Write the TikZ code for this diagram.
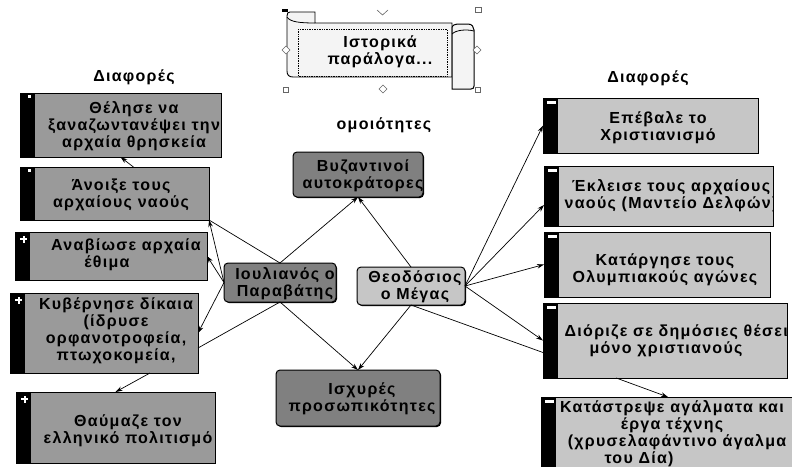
\documentclass[tikz,border=0pt]{standalone}
\usepackage{fontspec}
\setmainfont{Liberation Sans}
\newfontfamily\mapfont[LetterSpace=8]{Liberation Sans}
\usetikzlibrary{arrows.meta,calc,shadows}

\definecolor{leftgray}{HTML}{9A9A9A}
\definecolor{rightgray}{HTML}{C6C6C6}
\definecolor{centergray}{HTML}{808080}
\definecolor{scrollfill}{HTML}{F4F4F4}

% frame of a note box with its black side strip
\newcommand{\notebox}[6]{% name, x1, y1, x2, y2, style
  \node[#6, minimum width={#4-#2}, minimum height={#5-#3}] (#1) at ({(#2+#4)/2},{(#3+#5)/2}) {};
  \fill[black] (#1.north west) rectangle ([xshift=15pt]#1.south west);}
% text of a box, kept inside the frame, right of the strip
\newcommand{\boxtext}[4]{% box, name, position, text
  \begin{scope}
    \clip ([shift={(15.5pt,0.6pt)}]#1.south west) rectangle ([shift={(-0.6pt,-0.6pt)}]#1.north east);
    \node[txt] (#2) at (#3) {#4};
  \end{scope}}
\newcommand{\minusmark}[1]{\fill[white] ([shift={(4pt,-3pt)}]#1.north west) rectangle ([shift={(13pt,-6pt)}]#1.north west);}
\newcommand{\plusmark}[1]{%
  \fill[white] ([shift={(5pt,-6pt)}]#1.north west) rectangle ([shift={(12pt,-8pt)}]#1.north west);
  \fill[white] ([shift={(7.5pt,-3.5pt)}]#1.north west) rectangle ([shift={(9.5pt,-10.5pt)}]#1.north west);}
\newcommand{\dotmark}[1]{\fill[white] ([shift={(8pt,-1.5pt)}]#1.north west) rectangle ([shift={(11pt,-4.5pt)}]#1.north west);}

\begin{document}
\begin{tikzpicture}[x=1pt,y=-1pt,
  box/.style={rectangle, draw=black, line width=1pt, inner sep=0pt, outer sep=0pt},
  leftbox/.style={box, fill=leftgray},
  rightbox/.style={box, fill=rightgray},
  roundbox/.style={box, rounded corners=4pt, fill=centergray,
    drop shadow={shadow xshift=1pt, shadow yshift=-1pt, opacity=1, fill=black}},
  lightround/.style={roundbox, fill=rightgray},
  txt/.style={font=\mapfont\fontsize{16}{17}\selectfont\bfseries, align=center, inner sep=0pt},
  head/.style={font=\mapfont\fontsize{16}{17}\selectfont\bfseries, inner sep=0pt},
  link/.style={draw=black, line width=0.7pt, -{Stealth[length=7pt,width=4.5pt]}},
  plain/.style={draw=black, line width=0.7pt},
  handle/.style={draw=black!60, fill=white, line width=0.6pt}]
\useasboundingbox (0,0) rectangle (792,466);

% ---------- scroll banner ----------
\filldraw[fill=scrollfill, line width=0.9pt]
  (290,12) -- (315,12) -- (315,23) -- (452,23) -- (452,77) -- (293,77)
  .. controls (289,77) and (287,75) .. (287,71) -- (287,16)
  .. controls (287,13) and (288,12) .. (290,12) -- cycle;
\draw[line width=0.8pt] (287,17) .. controls (290,22) and (300,23) .. (315,23);
\filldraw[fill=scrollfill, line width=1pt]
  (452,28) .. controls (452,25) and (455,24) .. (460,24) -- (468,24)
  .. controls (472,24) and (474,27) .. (474,30) -- (474,86)
  .. controls (474,88) and (473,89) .. (471,89) -- (452,89) -- cycle;
\draw[line width=0.8pt] (452,34) .. controls (456,30) and (466,29) .. (474,31);
\draw[densely dotted, line width=0.7pt] (298,29) rectangle (447,76);
\node[txt] (ban) at (380,52) {Ιστορικά\\παράλογα...};
% selection handles
\fill[black] (282,9) rectangle (288,12);
\draw[handle, fill=none] (377,10) -- (382.5,15) -- (388,10);
\draw[handle] (475,7) rectangle (481,12);
\draw[handle] (286,46) -- (290,50) -- (286,54) -- (282,50) -- cycle;
\draw[handle] (477,46) -- (481,50) -- (477,54) -- (473,50) -- cycle;
\draw[handle] (383,85) -- (387,89) -- (383,93) -- (379,89) -- cycle;
\draw[handle] (283,87) rectangle (288,92);
\draw[handle] (475,87) rectangle (480,92);

% ---------- headings ----------
\node[head] (headL) at (134,77) {Διαφορές};
\node[head] (headR) at (648,78) {Διαφορές};
\node[head] (headM) at (384,125) {ομοιότητες};

% ---------- left column ----------
\notebox{L1}{20}{93}{221}{157}{leftbox}
\dotmark{L1}
\boxtext{L1}{L1t}{134,126}{Θέλησε να\\ξαναζωντανέψει την\\αρχαία θρησκεία}
\notebox{L2}{20}{167}{209}{220}{leftbox}
\dotmark{L2}
\boxtext{L2}{L2t}{121,195}{Άνοιξε τους\\αρχαίους ναούς}
\notebox{L3}{15}{232}{207}{280}{leftbox}
\plusmark{L3}
\boxtext{L3}{L3t}{126,255}{Αναβίωσε αρχαία\\έθιμα\hspace*{38pt}}
\notebox{L4}{10}{293}{198}{373}{leftbox}
\plusmark{L4}
\boxtext{L4}{L4t}{116,331}{Κυβέρνησε δίκαια\\(ίδρυσε\hspace*{66pt}\\ορφανοτροφεία,\\πτωχοκομεία,}
\notebox{L5}{16}{392}{215}{463}{leftbox}
\plusmark{L5}
\boxtext{L5}{L5t}{128,431}{Θαύμαζε τον\\ελληνικό πολιτισμό}

% ---------- right column ----------
\notebox{R1}{543}{98}{758}{153}{rightbox}
\minusmark{R1}
\boxtext{R1}{R1t}{658,128}{Επέβαλε το\\Χριστιανισμό}
\notebox{R2}{544}{166}{773}{226}{rightbox}
\minusmark{R2}
\boxtext{R2}{R2t}{671,196}{Έκλεισε τους αρχαίους\\ναούς (Μαντείο Δελφών)}
\notebox{R3}{544}{232}{770}{297}{rightbox}
\minusmark{R3}
\boxtext{R3}{R3t}{665,270}{Κατάργησε τους\\Ολυμπιακούς αγώνες}
\notebox{R4}{543}{303}{787}{378}{rightbox}
\minusmark{R4}
\boxtext{R4}{R4t}{666,341}{\hspace*{30pt}Διόριζε σε δημόσιες θέσεις\\μόνο χριστιανούς}
\notebox{R5}{541}{397}{805}{472}{rightbox}
\minusmark{R5}
\boxtext{R5}{R5t}{672,434}{Κατάστρεψε αγάλματα και\\έργα τέχνης\\\hspace*{10pt}(χρυσελαφάντινο άγαλμα\\του Δία)\hspace*{66pt}}

% ---------- centre ----------
\node[roundbox, minimum width=130, minimum height=45] (Byz) at (358,174.5) {};
\node[txt] (Byzt) at (363,176) {Βυζαντινοί\\αυτοκράτορες};
\node[roundbox, minimum width=112, minimum height=39] (Jul) at (280,282.5) {};
\begin{scope}
  \clip ([shift={(0.6pt,0.6pt)}]Jul.south west) rectangle ([shift={(-0.6pt,-0.6pt)}]Jul.north east);
  \node[txt] (Jult) at (285,284) {Ιουλιανός ο\\Παραβάτης};
\end{scope}
\node[lightround, minimum width=108, minimum height=38] (Theo) at (411,286) {};
\node[txt] (Theot) at (415,287) {Θεοδόσιος\\ο Μέγας};
\node[roundbox, minimum width=164, minimum height=56] (Isx) at (358,398) {};
\node[txt] (Isxt) at (362,399) {Ισχυρές\\προσωπικότητες};

% ---------- connectors ----------
\draw[link] ($(L2.north west)!0.6!(L2.north east)$) -- (L1.south);
\draw[link] (Jul.west) -- (L2.south east);
\draw[link] (Jul.west) -- (L3.east);
\draw[link] (Jul.west) -- (L4.east);
\draw[plain] (Jul.north) -- (L2.south east);
\draw[link] (Jul.north) -- (Byz.south);
\draw[link] (Theo.north) -- (Byz.south);
\draw[link] (Jul.south) -- (Isx.north);
\draw[plain] (Jul.south) -- ([yshift=-15pt]L4.east);
\draw[link] (Theo.south) -- (Isx.north);
\draw[plain] (Theo.south) -- ([yshift=-12pt]R4.west);
\draw[link] (Theo.east) -- (R1.west);
\draw[link] (Theo.east) -- ([yshift=-9pt]R2.west);
\draw[link] (Theo.east) -- (R3.west);
\draw[link] (Theo.east) -- (R4.west);
\draw[link] ($(R4.south west)!0.3!(R4.south east)$) -- ([xshift=-5pt]R5.north);
\draw[link] ([xshift=46pt]L4.south) -- (L5.north);
\end{tikzpicture}
\end{document}
